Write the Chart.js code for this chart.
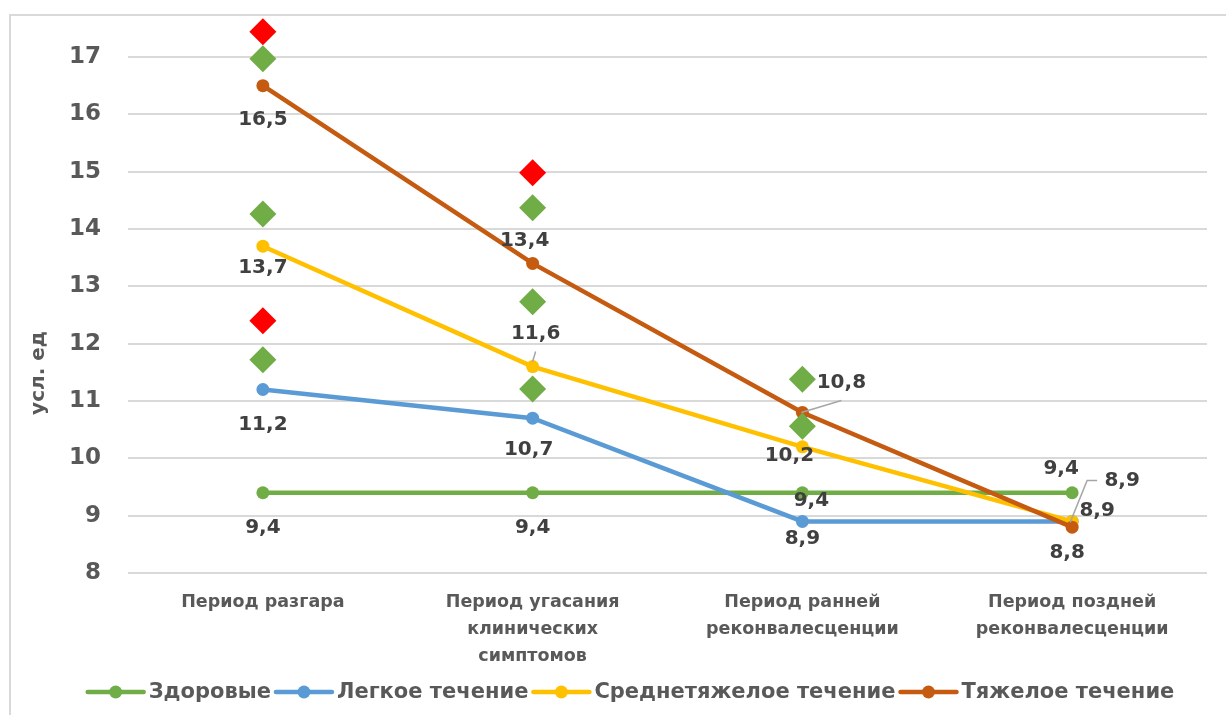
<!DOCTYPE html>
<html><head><meta charset="utf-8">
<script src="https://cdn.jsdelivr.net/npm/chart.js@4.4.1/dist/chart.umd.min.js"></script>
<style>html,body{margin:0;padding:0;background:#fff;}#wrap{width:1226px;height:715px;position:relative;}</style>
</head><body><div id="wrap"><canvas id="c"></canvas></div>
<script>
// ---------- data ----------
const categories = [["Период разгара"], ["Период угасания", "клинических", "симптомов"], ["Период ранней", "реконвалесценции"], ["Период поздней", "реконвалесценции"]];
const seriesNames = ["Здоровые", "Легкое течение", "Среднетяжелое течение", "Тяжелое течение"];
const healthy = [9.4, 9.4, 9.4, 9.4];
const mild = [11.2, 10.7, 8.9, 8.9];
const moderate = [13.7, 11.6, 10.2, 8.9];
const severe = [16.5, 13.4, 10.8, 8.8];
const greenMarkerPeriod = [0, 0, 0, 1, 1, 1, 2, 2];
const greenMarkerValues = [16.97, 14.26, 11.72, 14.37, 12.73, 11.21, 11.38, 10.56];
const redMarkerPeriod = [0, 0, 1];
const redMarkerValues = [17.44, 12.4, 14.98];
const yTickMin = 8, yTickMax = 17, yStep = 1;
const yTitle = "усл. ед";

// ---------- styles ----------
const colors = ["#70AD47", "#5B9BD5", "#FFC000", "#C55A11"];
const FONT = "'DejaVu Sans', Verdana, sans-serif";
// data label offsets (px) relative to each point; optional leader polyline
const labelPlacement = [
  [{d:[0,35]}, {d:[0,35]}, {d:[9,8]}, {d:[-11,-24]}],
  [{d:[0,35]}, {d:[-4,32]}, {d:[0,17]}, {d:[25,-11]}],
  [{d:[0,22]}, {d:[3,-33], l:[[0,-5],[3,-15]]}, {d:[-13,9]}, {d:[50,-41], l:[[-2,1],[15,-41],[25,-41]]}],
  [{d:[0,34]}, {d:[-8,-23]}, {d:[39,-30], l:[[-1,0],[39,-12]]}, {d:[-5,26]}]
];

const lineSeries = [healthy, mild, moderate, severe];
const datasets = lineSeries.map((vals, k) => ({
  type: 'line',
  label: seriesNames[k],
  data: vals,
  borderColor: colors[k],
  backgroundColor: colors[k],
  borderWidth: 4.5,
  pointRadius: 6.5,
  pointHoverRadius: 6.5,
  pointBorderWidth: 0,
  tension: 0,
  order: 4 - k,
  xAxisID: 'x'
}));
datasets.push({
  type: 'line', label: 'green markers', showLine: false, clip: false,
  data: greenMarkerValues.map((v, i) => ({x: greenMarkerPeriod[i], y: v})),
  pointStyle: 'rectRot', pointRadius: 13.5, pointHoverRadius: 13.5, pointBorderWidth: 0,
  backgroundColor: '#70AD47', borderColor: '#70AD47', xAxisID: 'xm', order: 0
});
datasets.push({
  type: 'line', label: 'red markers', showLine: false, clip: false,
  data: redMarkerValues.map((v, i) => ({x: redMarkerPeriod[i], y: v})),
  pointStyle: 'rectRot', pointRadius: 13.5, pointHoverRadius: 13.5, pointBorderWidth: 0,
  backgroundColor: '#FF0000', borderColor: '#FF0000', xAxisID: 'xm', order: 0
});

const framePlugin = {
  id: 'frame',
  beforeDraw(chart) {
    const ctx = chart.ctx;
    ctx.save();
    ctx.fillStyle = '#fff';
    ctx.fillRect(0, 0, chart.width, chart.height);
    ctx.strokeStyle = '#d9d9d9';
    ctx.lineWidth = 2;
    ctx.beginPath();
    ctx.moveTo(10, chart.height);
    ctx.lineTo(10, 15);
    ctx.lineTo(chart.width, 15);
    ctx.stroke();
    // axis title
    ctx.translate(39, 373);
    ctx.rotate(-Math.PI / 2);
    ctx.font = "bold 20px " + FONT;
    ctx.fillStyle = '#595959';
    ctx.textAlign = 'center';
    ctx.textBaseline = 'middle';
    ctx.fillText(yTitle, 0, 0);
    ctx.restore();
  }
};

const labelPlugin = {
  id: 'dlabels',
  afterDatasetsDraw(chart) {
    const ctx = chart.ctx;
    ctx.save();
    ctx.font = "bold 20px " + FONT;
    ctx.textAlign = 'center';
    ctx.textBaseline = 'middle';
    for (let k = 0; k < lineSeries.length; k++) {
      const meta = chart.getDatasetMeta(k);
      meta.data.forEach((pt, i) => {
        const cfg = labelPlacement[k][i];
        if (cfg.l) {
          ctx.strokeStyle = '#a6a6a6';
          ctx.lineWidth = 1.5;
          ctx.beginPath();
          cfg.l.forEach((p, j) => { if (j === 0) ctx.moveTo(pt.x + p[0], pt.y + p[1]); else ctx.lineTo(pt.x + p[0], pt.y + p[1]); });
          ctx.stroke();
        }
        ctx.fillStyle = '#404040';
        ctx.fillText(String(lineSeries[k][i]).replace('.', ','), pt.x + cfg.d[0], pt.y + cfg.d[1]);
      });
    }
    ctx.restore();
  }
};

const legendPlugin = {
  id: 'customLegend',
  afterDraw(chart) {
    const ctx = chart.ctx;
    ctx.save();
    ctx.font = "bold 21px " + FONT;
    ctx.textBaseline = 'middle';
    const markW = 60, gap = 3;
    const widths = seriesNames.map(n => ctx.measureText(n).width);
    const total = widths.reduce((a, w) => a + markW + gap + w + gap, 0) - gap;
    let x = 630 - total / 2;
    const y = chart.height - 23;
    seriesNames.forEach((n, k) => {
      ctx.strokeStyle = colors[k];
      ctx.fillStyle = colors[k];
      ctx.lineWidth = 4.5;
      ctx.lineCap = 'round';
      ctx.beginPath(); ctx.moveTo(x + 2, y); ctx.lineTo(x + markW - 2, y); ctx.stroke();
      ctx.beginPath(); ctx.arc(x + markW / 2, y, 6.5, 0, Math.PI * 2); ctx.fill();
      ctx.fillStyle = '#595959';
      ctx.textAlign = 'left';
      ctx.fillText(n, x + markW + gap, y + 1);
      x += markW + gap + widths[k] + gap;
    });
    ctx.restore();
  }
};

new Chart(document.getElementById('c'), {
  data: { labels: categories, datasets },
  options: {
    responsive: true,
    maintainAspectRatio: false,
    animation: false,
    events: [],
    layout: { padding: { left: 10, right: 19, top: 28.3, bottom: 42 } },
    plugins: { legend: { display: false }, tooltip: { enabled: false } },
    scales: {
      x: {
        type: 'category', offset: true,
        grid: { display: false, drawTicks: false },
        border: { display: false },
        ticks: { color: '#595959', font: { family: FONT, size: 17.5, weight: 'bold', lineHeight: 1.55 }, padding: 16, maxRotation: 0, autoSkip: false },
        afterFit(s) { s.height = 100; s.paddingLeft = 0; s.paddingRight = 0; }
      },
      xm: { type: 'linear', display: false, min: -0.5, max: 3.5 },
      y: {
        min: yTickMin, max: yTickMax + yStep / 2,
        afterBuildTicks(s) { s.ticks = s.ticks.filter(t => t.value >= yTickMin && t.value <= yTickMax && Number.isInteger(t.value)); },
        ticks: { stepSize: yStep, color: '#595959', font: { family: FONT, size: 23, weight: 'bold' }, padding: 27 },
        grid: { color: '#d9d9d9', lineWidth: 2, drawTicks: false },
        border: { display: false },
        afterFit(s) { s.width = 118; s.paddingTop = 0; s.paddingBottom = 0; }
      }
    }
  },
  plugins: [framePlugin, labelPlugin, legendPlugin]
});
</script></body></html>
